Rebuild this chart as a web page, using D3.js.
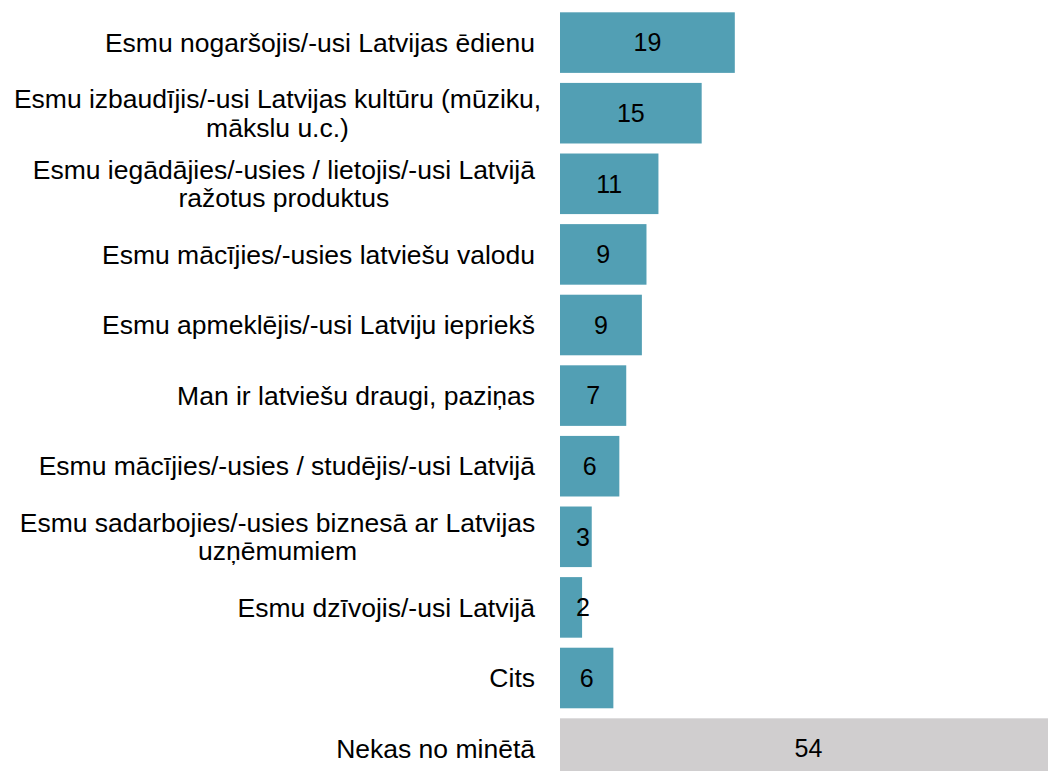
<!DOCTYPE html>
<html>
<head>
<meta charset="utf-8">
<script src="https://cdn.jsdelivr.net/npm/d3@7"></script>
<style>
  html, body { margin: 0; padding: 0; background: #fff; }
  svg { display: block; font-family: Arial, "Liberation Sans", sans-serif; }
</style>
</head>
<body>
<div id="chart"></div>
<script>
const Width = 1048;
const Height = 771;
const LabelRight = 535;
const LabelBox = 515;
const LabelSize = 26.5;
const ValueSize = 25;

// answer options, "\n" marks a line break in the label
const categories = [
  'Esmu nogaršojis/-usi Latvijas ēdienu',
  'Esmu izbaudījis/-usi Latvijas kultūru (mūziku,\nmākslu u.c.)',
  'Esmu iegādājies/-usies / lietojis/-usi Latvijā\nražotus produktus',
  'Esmu mācījies/-usies latviešu valodu',
  'Esmu apmeklējis/-usi Latviju iepriekš',
  'Man ir latviešu draugi, paziņas',
  'Esmu mācījies/-usies / studējis/-usi Latvijā',
  'Esmu sadarbojies/-usies biznesā ar Latvijas\nuzņēmumiem',
  'Esmu dzīvojis/-usi Latvijā',
  'Cits',
  'Nekas no minētā'
];

// share of respondents, %
const values = [19.0, 15.4, 10.7, 9.4, 8.9, 7.2, 6.45, 3.45, 2.4, 5.8, 54.0];

// group of each answer (the last one is "none of the above")
const groups = ['yes', 'yes', 'yes', 'yes', 'yes', 'yes', 'yes', 'yes', 'yes', 'yes', 'none'];

const data = categories.map((c, i) => ({ name: c, value: values[i], group: groups[i] }));

const svg = d3.select('#chart').
append('svg').
attr('width', Width).
attr('height', Height);

//Scales
const x = d3.scaleLinear().
domain([0, 54]).
range([560, 1056.8]);

const y = d3.scaleBand().
domain(categories).
range([7.3, 7.3 + 11 * 70.6]).
paddingInner(0.142).
paddingOuter(0.071);

const color = d3.scaleOrdinal().
domain(['yes', 'none']).
range(['#529fb4', '#d0cecf']);

const fmt = d3.format('.0f');

//bars
svg.selectAll('.bar').
data(data).
enter().
append('rect').
attr('class', 'bar').
attr('x', x(0)).
attr('y', d => y(d.name)).
attr('width', d => x(d.value) - x(0)).
attr('height', y.bandwidth()).
attr('fill', d => color(d.group));

//value labels inside bars
svg.selectAll('.value').
data(data).
enter().
append('text').
attr('class', 'value').
attr('x', d => Math.max((x(0) + x(d.value)) / 2, x(0) + 23)).
attr('y', d => y(d.name) + y.bandwidth() / 2).
attr('dy', '0.35em').
attr('text-anchor', 'middle').
style('font-size', ValueSize + 'px').
attr('fill', '#000').
text(d => fmt(d.value));

//category labels: lines centred on each other, block right-aligned,
//a line wider than the box spills over both sides
const LineHeight = 28.6;
const labels = svg.selectAll('.label').
data(data).
enter().
append('text').
attr('class', 'label').
attr('text-anchor', 'middle').
style('font-size', LabelSize + 'px').
attr('fill', '#000');

labels.each(function (d) {
  const g = d3.select(this);
  const lines = d.name.split('\n');
  const cy = y(d.name) + y.bandwidth() / 2;
  const spans = g.selectAll('tspan').
  data(lines).
  enter().
  append('tspan').
  attr('y', (l, i) => cy + (i - (lines.length - 1) / 2) * LineHeight).
  attr('dy', '0.35em').
  text(l => l);
  let w = 0;
  spans.each(function () { w = Math.max(w, this.getComputedTextLength()); });
  w = Math.min(w, LabelBox);
  spans.attr('x', LabelRight - w / 2);
});
</script>
</body>
</html>
